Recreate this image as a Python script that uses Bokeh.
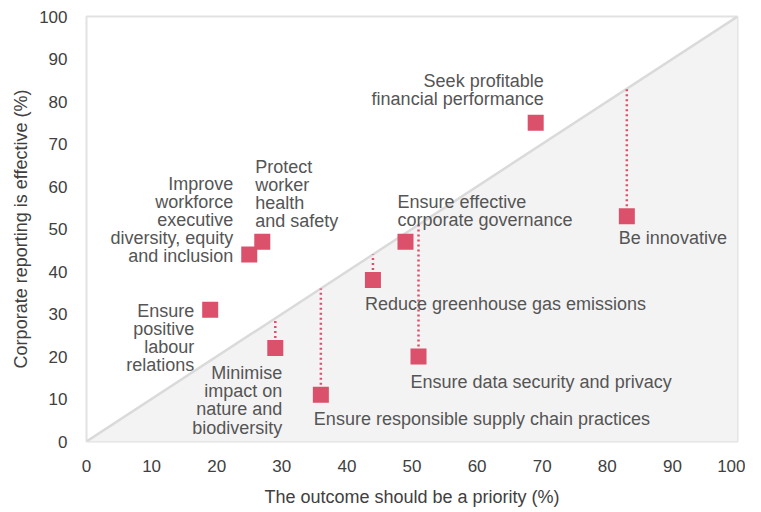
from bokeh.plotting import figure
from bokeh.models import Range1d, FixedTicker, ColumnDataSource
from bokeh.core.properties import value
from bokeh.embed import file_html
from bokeh.resources import INLINE

# ---- data ----
outcomes = [
    "Seek profitable\nfinancial performance",
    "Be innovative",
    "Ensure effective\ncorporate governance",
    "Reduce greenhouse gas emissions",
    "Ensure data security and privacy",
    "Ensure responsible supply chain practices",
    "Minimise\nimpact on\nnature and\nbiodiversity",
    "Ensure\npositive\nlabour\nrelations",
    "Improve\nworkforce\nexecutive\ndiversity, equity\nand inclusion",
    "Protect\nworker\nhealth\nand safety",
]
priority = [69, 83, 49, 44, 51, 36, 29, 19, 25, 27]       # x: outcome should be a priority (%)
effective = [75, 53, 47, 38, 20, 11, 22, 31, 44, 47]      # y: corporate reporting is effective (%)
tick_values = [0, 10, 20, 30, 40, 50, 60, 70, 80, 90, 100]
axis_min, axis_max = 0, 100

# ---- label layout (pixel offsets from the marker centre) ----
label_align = ["right", "left", "left", "left", "left", "left", "right", "right", "right", "left"]
label_dx = [8, -8, -8, -8, -8, -7, 7, -16, -16, -7]
label_dy = [-52, 12, -50, 14, 15, 14, 15, -9, -81, -85]

FONT = "Liberation Sans"
PINK = "#db506a"
LABEL_COLOR = "#555555"

p = figure(frame_width=651, frame_height=425, output_backend="svg", toolbar_location=None,
           x_range=Range1d(axis_min, axis_max), y_range=Range1d(axis_min, axis_max),
           min_border_left=86, min_border_right=8, min_border_top=16, min_border_bottom=54)

p.background_fill_color = "white"
p.border_fill_color = "white"
p.outline_line_color = "#e2e2e2"
p.outline_line_width = 2
p.xgrid.grid_line_color = None
p.ygrid.grid_line_color = None

# shaded region below the diagonal and the diagonal itself
p.patch([axis_min, axis_max, axis_max], [axis_min, axis_max, axis_min],
        fill_color="#f3f3f3", line_color=None)
p.line([axis_min, axis_max], [axis_min, axis_max], line_color="#dadada", line_width=2.5)

# dotted gap lines from each point below the diagonal up to the diagonal
below = [i for i in range(len(priority)) if effective[i] < priority[i]]
seg = ColumnDataSource(dict(
    x=[priority[i] for i in below],
    y0=[effective[i] for i in below],
    y1=[priority[i] for i in below],
))
p.segment(x0="x", y0="y0", x1="x", y1="y1", source=seg,
          line_color=PINK, line_width=2.5, line_dash="2 3")

# markers
pts = ColumnDataSource(dict(x=priority, y=effective))
p.scatter("x", "y", source=pts, marker="square", size=16,
          fill_color=PINK, line_color=None)

# labels
for align in ("left", "right"):
    idx = [i for i in range(len(outcomes)) if label_align[i] == align]
    src = ColumnDataSource(dict(
        x=[priority[i] for i in idx],
        y=[effective[i] for i in idx],
        text=[outcomes[i] for i in idx],
        dx=[label_dx[i] for i in idx],
        dy=[label_dy[i] for i in idx],
    ))
    p.text(x="x", y="y", text="text", source=src, x_offset="dx", y_offset="dy",
           text_align=align, text_baseline="top", text_font=value(FONT),
           text_font_size="18px", text_color=LABEL_COLOR, text_line_height=0.91)

# axes
for ax in (p.xaxis[0], p.yaxis[0]):
    ax.ticker = FixedTicker(ticks=tick_values)
    ax.axis_line_color = None
    ax.major_tick_line_color = None
    ax.minor_tick_line_color = None
    ax.major_tick_out = 0
    ax.major_tick_in = 0
    ax.minor_tick_out = 0
    ax.minor_tick_in = 0
    ax.major_label_text_font = FONT
    ax.major_label_text_font_size = "17px"
    ax.major_label_text_color = "#404040"
    ax.axis_label_text_font = FONT
    ax.axis_label_text_font_size = "18px"
    ax.axis_label_text_font_style = "normal"
    ax.axis_label_text_color = "#404040"

p.xaxis.axis_label = "The outcome should be a priority (%)"
p.yaxis.axis_label = "Corporate reporting is effective (%)"
p.xaxis.major_label_standoff = 18
p.xaxis.axis_label_standoff = 12
p.yaxis.major_label_standoff = 19
p.yaxis.axis_label_standoff = 5

open("out.html", "w").write(file_html(p, INLINE))
